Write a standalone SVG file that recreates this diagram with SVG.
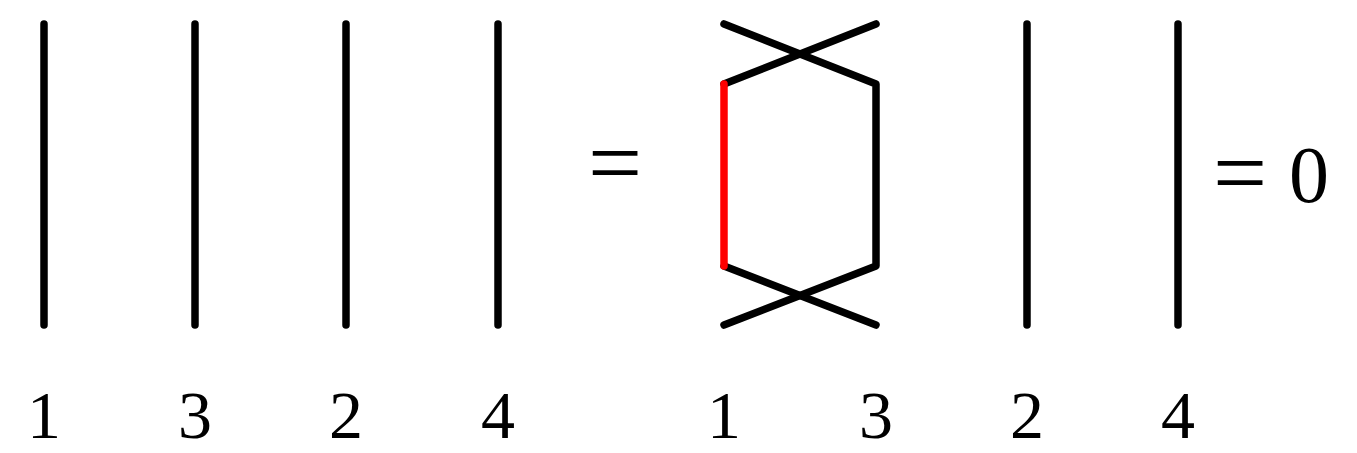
<svg xmlns="http://www.w3.org/2000/svg" width="1357" height="453" viewBox="0 0 1357 453">
<style>
.s{stroke:#000;stroke-width:7.5;stroke-linecap:round;stroke-linejoin:round;fill:none}
.r{stroke:#ff0000}
.t{font-family:"Liberation Serif","DejaVu Serif",serif;font-size:68px;fill:#000;text-anchor:middle}
.e{font-size:96px}
</style>
<rect width="1357" height="453" fill="#fff"/>
<g id="connectors">
<line class="s" x1="44" y1="24" x2="44" y2="325"/>
<line class="s" x1="195" y1="24" x2="195" y2="325"/>
<line class="s" x1="346" y1="24" x2="346" y2="325"/>
<line class="s" x1="498" y1="24" x2="498" y2="325"/>
<polyline class="s" points="724,24 876,84 876,266 724,325"/>
<polyline class="s" points="876,24 724,84"/>
<polyline class="s" points="724,266 876,325"/>
<line class="s r" x1="724" y1="84" x2="724" y2="266"/>
<line class="s" x1="1027" y1="24" x2="1027" y2="325"/>
<line class="s" x1="1178" y1="24" x2="1178" y2="325"/>
</g>
<g id="labels">
<text class="t" x="44" y="438">1</text>
<text class="t" x="195" y="438">3</text>
<text class="t" x="346" y="438">2</text>
<text class="t" x="498" y="438">4</text>
<text class="t" x="724" y="438">1</text>
<text class="t" x="876" y="438">3</text>
<text class="t" x="1027" y="438">2</text>
<text class="t" x="1178" y="438">4</text>
<text class="t e" x="615" y="195">=</text>
<text class="t e" x="1240" y="205">=</text>
<text class="t" x="1309" y="202" style="font-size:80px">0</text>
</g>
</svg>
